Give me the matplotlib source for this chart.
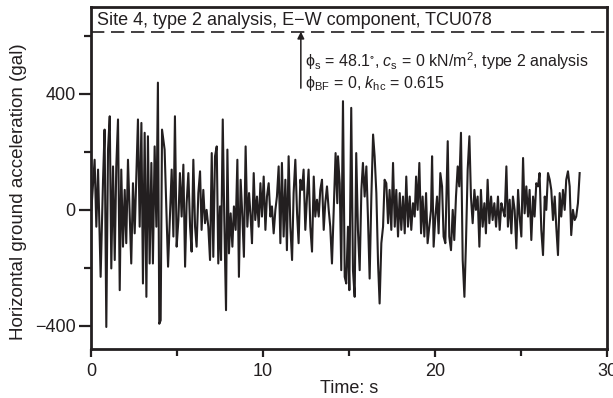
import numpy as np
import matplotlib
matplotlib.use("Agg")
import matplotlib.pyplot as plt

plt.rcParams['font.family'] = ['Liberation Sans', 'DejaVu Sans']
plt.rcParams['mathtext.fontset'] = 'custom'
plt.rcParams['mathtext.rm'] = 'Liberation Sans'
plt.rcParams['mathtext.it'] = 'Liberation Sans:italic'
plt.rcParams['mathtext.fallback'] = 'stixsans'

# time (s) and acceleration (gal)
time_s = [0.02, 0.21, 0.31, 0.41, 0.56, 0.70, 0.79, 0.89, 0.99, 1.09, 1.18, 1.28, 1.38,
          1.47, 1.57, 1.67, 1.76, 1.86, 1.96, 2.05, 2.15, 2.25, 2.34, 2.44, 2.54, 2.73,
          2.83, 2.93, 3.02, 3.12, 3.22, 3.31, 3.41, 3.51, 3.60, 3.70, 3.80, 3.89, 3.97,
          4.05, 4.13, 4.28, 4.38, 4.48,
          4.69, 4.79, 4.88, 4.98, 5.08, 5.17, 5.27, 5.37, 5.47, 5.56, 5.66, 5.76, 5.85,
          5.95, 6.05, 6.14, 6.24, 6.34, 6.43, 6.53, 6.63, 6.72, 6.82, 6.92, 7.02, 7.11,
          7.21, 7.31, 7.40, 7.50, 7.56, 7.66, 7.75, 7.85, 7.93, 8.02, 8.12, 8.22, 8.31,
          8.41, 8.51, 8.60, 8.70, 8.80, 8.89, 8.99, 9.09, 9.19, 9.28,
          9.36, 9.46, 9.55, 9.65, 9.75, 9.85, 9.94, 10.04, 10.14, 10.23, 10.33, 10.43,
          10.52, 10.62, 10.72, 10.81, 10.91, 11.01, 11.10, 11.20, 11.30, 11.39, 11.49,
          11.59, 11.69, 11.78, 11.88, 11.98, 12.07, 12.17, 12.27, 12.36, 12.46, 12.56,
          12.65, 12.75, 12.85, 12.95, 13.04, 13.14, 13.24, 13.33, 13.43, 13.53, 13.62,
          13.72, 13.82, 13.91, 14.01,
          14.22, 14.32, 14.36, 14.46, 14.55, 14.65, 14.75, 14.84, 14.94, 15.02, 15.13,
          15.23, 15.33, 15.42, 15.52, 15.62, 15.72, 15.81, 15.91, 16.01, 16.10, 16.20,
          16.30, 16.40, 16.49, 16.59, 16.69, 16.78, 16.88, 16.98, 17.07, 17.17, 17.27,
          17.36, 17.46, 17.56, 17.66, 17.75, 17.85, 17.95, 18.04, 18.14, 18.24, 18.33,
          18.43, 18.53, 18.62, 18.72, 18.82,
          18.90, 18.99, 19.09, 19.19, 19.28, 19.38, 19.48, 19.57, 19.67, 19.77, 19.83,
          19.92, 20.02, 20.12, 20.21, 20.31, 20.41, 20.50, 20.60, 20.74, 20.83, 20.93,
          21.03, 21.12, 21.22, 21.32, 21.41, 21.51, 21.61, 21.71, 21.80, 21.90, 22.00,
          22.09, 22.19, 22.29, 22.38, 22.48, 22.58, 22.67, 22.77, 22.87, 22.96, 23.06,
          23.16, 23.26, 23.35, 23.45, 23.55,
          23.66, 23.76, 23.86, 23.95, 24.05, 24.15, 24.24, 24.34, 24.44, 24.53, 24.63,
          24.73, 24.83, 24.92, 25.02, 25.12, 25.21, 25.31, 25.41, 25.50, 25.60, 25.70,
          25.79, 25.89, 25.99, 26.08, 26.18, 26.28, 26.38, 26.47, 26.57, 26.67, 26.76,
          26.86, 26.96, 27.05, 27.15, 27.25, 27.34, 27.44, 27.54, 27.63, 27.73, 27.83,
          27.92, 28.02, 28.12, 28.21, 28.31, 28.41]

accel_gal = [0, 173, -58, 139, -231, 104, 277, -404, 208, 323, -202, 150, -173,
             150, 312, -277, 139, -127, 69, -115, 173, -12, -185, 92, -81, 312,
             -58, 300, -254, 266, -300, 254, -185, 162, -185, 219, -58, 439, -393,
             -381, 277, 208, 0, -196,
             139, -92, 323, -127, -35, 127, -23, 156, -196, 23, 127, -58, -144,
             173, -58, -127, 58, 133, -69, 69, -46, 0, -58, -173, 196, -162,
             185, 219, -185, 12, -173, 312, -35, -346, 208, -150, -12, -127, 12,
             -69, 173, -231, 104, -23, -162, 219, -58, 58, -23,
             -115, 127, -35, 46, -58, 92, -23, 115, -69, 46, 92, -23,
             12, -81, 0, 46, 150, -115, 162, -92, 104, -139, 185,
             -58, -173, 58, 173, -12, -115, 104, 69, 139, -69, 46,
             139, -58, -144, 115, -23, 35, -23, 69, 104, -69, 23,
             81, 0, -58, -185,
             196, 23, 185, 92, -208, 375, -231, -254, -58, -277, 352,
             -208, -300, 196, -69, -208, 69, 162, 46, 150, -23, -237,
             46, 260, 185, 58, -185, -323, -115, -58, 104, 92, -46,
             69, -69, 162, -58, 69, -92, 58, -69, 46, -81, 115,
             -58, 46, -69, 23, -23,
             115, 0, 162, -81, 46, -92, 58, -115, -58, 0, 185,
             -127, -23, 46, -81, 127, 81, -92, -115, 237, -92, -139,
             0, -104, 46, 150, 81, 266, -173, -300, -115, 139, 254,
             46, -46, 69, 0, 46, -127, 69, -58, 23, -81, 104,
             -46, 46, -35, 23, -58,
             46, -69, 23, 0, -23, 150, -58, 35, -81, 46, 0,
             -133, 69, -23, -92, 179, -12, 81, -23, 69, -104, 46,
             -23, 92, 81, 127, -69, -156, 46, 0, 127, 104, 69,
             -35, 46, -58, -156, 58, -23, 69, 0, 104, 133, 81,
             -87, 0, -35, -23, 23, 127]

limit_gal = 615
title_text = "Site 4, type 2 analysis, E\u2212W component, TCU078"
note_line1 = "\u03d5$_{\\rm s}$ = 48.1$^{\\circ}$, $c_{\\rm s}$ = 0 kN/m$^2$, type 2 analysis"
note_line2 = "\u03d5$_{\\rm BF}$ = 0, $k_{\\rm hc}$ = 0.615"

ink = "#231f20"

fig = plt.figure(figsize=(6.13, 3.98), dpi=100)
ax = fig.add_axes([91/613, 49/398, 516/613, 342/398])

ax.plot(time_s, accel_gal, color=ink, linewidth=1.5)
ax.axhline(limit_gal, color=ink, linewidth=1.2, dashes=(8, 4))

ax.annotate("", xy=(12.2, limit_gal), xytext=(12.2, 420),
            arrowprops=dict(arrowstyle="-|>", color=ink, lw=1.1,
                            mutation_scale=10, shrinkA=0, shrinkB=0))
ax.text(0.35, 652, title_text, fontsize=13, va="center", ha="left", color=ink)
ax.text(12.45, 512, note_line1, fontsize=11.5, va="center", ha="left", color=ink)
ax.text(12.45, 436, note_line2, fontsize=11.5, va="center", ha="left", color=ink)

ax.set_xlim(0, 30)
ax.set_ylim(-480, 700)
ax.set_xticks([0, 10, 20, 30])
ax.set_xticks([5, 15, 25], minor=True)
ax.set_yticks([-400, 0, 400])
ax.set_yticks([-200, 200, 600], minor=True)
ax.tick_params(which="both", direction="out", width=1.6, labelsize=13, colors=ink)
ax.tick_params(axis="x", which="major", length=6, pad=4)
ax.tick_params(axis="x", which="minor", length=5)
ax.tick_params(axis="y", which="major", length=9, pad=2)
ax.tick_params(axis="y", which="minor", length=5)
for sp in ax.spines.values():
    sp.set_linewidth(2.0)
    sp.set_color(ink)

ax.set_xlabel("Time: s", fontsize=13, labelpad=0, color=ink)
ax.set_ylabel("Horizontal ground acceleration (gal)", fontsize=13.5, color=ink)
ax.yaxis.set_label_coords(-0.124, 0.46)

fig.savefig("out.png", dpi=100)
